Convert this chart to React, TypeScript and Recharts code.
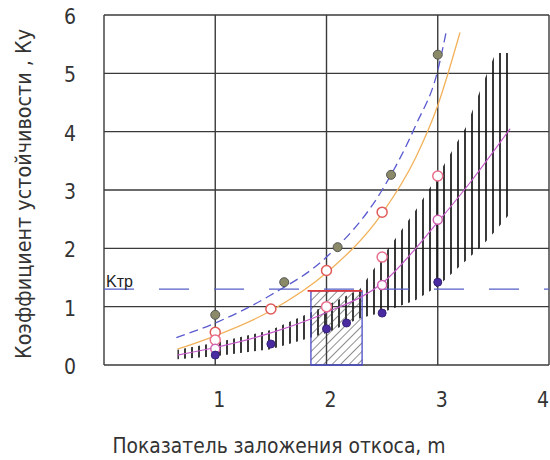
import {
  Area,
  CartesianGrid,
  ComposedChart,
  Label,
  Line,
  ReferenceArea,
  ReferenceLine,
  XAxis,
  YAxis,
} from "recharts";

const FONT =
  "'Liberation Sans Narrow', 'DejaVu Sans Condensed', 'Roboto Condensed', 'DejaVu Sans', sans-serif";

const X_TICKS = [0, 1, 2, 3, 4];
const Y_TICKS = [0, 1, 2, 3, 4, 5, 6];
const X_LABEL = "Показатель заложения откоса, m";
const Y_LABEL = "Коэффициент устойчивости , Ку";
const KTR = 1.3;

// upper dashed curve
const blueX = [0.65, 1.0, 1.5, 2.0, 2.5, 2.8, 3.0, 3.08];
const blueY = [0.47, 0.72, 1.2, 1.85, 3.0, 4.1, 5.05, 5.75];

// orange curve
const orangeX = [0.66, 1.0, 1.5, 2.0, 2.5, 2.8, 3.0, 3.2];
const orangeY = [0.27, 0.5, 0.93, 1.58, 2.6, 3.55, 4.45, 5.7];

// magenta curve
const magentaX = [0.66, 1.0, 1.5, 2.0, 2.5, 3.0, 3.3, 3.65];
const magentaY = [0.17, 0.3, 0.55, 0.9, 1.4, 2.45, 3.15, 4.05];

// hatched band
const bandX = [0.66, 1.0, 1.5, 2.0, 2.3, 2.5, 2.8, 3.0, 3.26, 3.4, 3.52, 3.65];
const bandLow = [0.1, 0.15, 0.27, 0.55, 0.8, 0.9, 1.11, 1.35, 1.8, 2.05, 2.3, 2.6];
const bandHigh = [0.26, 0.38, 0.6, 1.02, 1.3, 1.85, 2.65, 3.25, 4.1, 4.8, 5.35, 5.35];

// markers
const grayX = [1.0, 1.62, 2.1, 2.58, 3.0];
const grayY = [0.86, 1.42, 2.02, 3.26, 5.32];
const redX = [1.0, 1.5, 2.0, 2.5];
const redY = [0.56, 0.96, 1.62, 2.62];
const pinkX = [1.0, 2.0, 2.5, 3.0];
const pinkY = [0.43, 1.0, 1.85, 3.24];
const violetX = [1.0, 2.5, 3.0];
const violetY = [0.28, 1.37, 2.49];
const darkX = [1.0, 1.5, 2.0, 2.18, 2.5, 3.0];
const darkY = [0.17, 0.36, 0.62, 0.72, 0.89, 1.42];

// diagonal hatched rectangle
const rectX1 = 1.86;
const rectX2 = 2.32;
const rectTop = 1.27;
const redLineX1 = 1.83;

const pts = (xs: number[], ys: number[]) => xs.map((x, i) => ({ x, y: ys[i] }));
const bandData = bandX.map((x, i) => ({ x, range: [bandLow[i], bandHigh[i]] }));

const XTick = ({ x, y, payload }: any) =>
  payload.value === 0 ? (
    <g />
  ) : (
    <text
      x={Math.min(x + 4, 543)}
      y={y + 34}
      textAnchor="middle"
      fontSize={21}
      fill="#333"
      fontFamily={FONT}
    >
      {payload.value}
    </text>
  );

const YTick = ({ y, payload }: any) => (
  <text x={70} y={y + 9} textAnchor="middle" fontSize={21} fill="#333" fontFamily={FONT}>
    {payload.value}
  </text>
);

export default function App() {
  return (
    <div style={{ position: "absolute", left: 0, top: 0, background: "#fff" }}>
      <ComposedChart width={550} height={460} margin={{ top: 15, right: 1, left: 0, bottom: 0 }}>
        <defs>
          <pattern id="vhatch" patternUnits="userSpaceOnUse" width={7} height={10}>
            <line x1={3} y1={0} x2={3} y2={10} stroke="#151515" strokeWidth={1.7} />
          </pattern>
          <pattern
            id="dhatch"
            patternUnits="userSpaceOnUse"
            width={6}
            height={6}
            patternTransform="rotate(45)"
          >
            <line x1={0} y1={0} x2={0} y2={6} stroke="#444" strokeWidth={1.2} />
          </pattern>
        </defs>
        <CartesianGrid stroke="#3a3a3a" strokeWidth={1.4} />
        <XAxis
          type="number"
          dataKey="x"
          domain={[0, 4]}
          ticks={X_TICKS}
          axisLine={false}
          tickLine={false}
          height={95}
          tick={XTick}
        >
          <Label
            content={() => (
              <text
                x={279}
                y={453}
                textAnchor="middle"
                fontSize={22}
                fill="#333"
                fontFamily={FONT}
                textLength={333}
                lengthAdjust="spacingAndGlyphs"
              >
                {X_LABEL}
              </text>
            )}
          />
        </XAxis>
        <YAxis
          type="number"
          domain={[0, 6]}
          ticks={Y_TICKS}
          axisLine={false}
          tickLine={false}
          width={104}
          tick={YTick}
        >
          <Label
            content={() => (
              <text
                transform="translate(31,194) rotate(-90)"
                textAnchor="middle"
                fontSize={22}
                fill="#333"
                fontFamily={FONT}
                textLength={330}
                lengthAdjust="spacingAndGlyphs"
              >
                {Y_LABEL}
              </text>
            )}
          />
        </YAxis>
        <Area
          data={bandData}
          dataKey="range"
          type="linear"
          fill="url(#vhatch)"
          fillOpacity={1}
          stroke="none"
          isAnimationActive={false}
        />
        <ReferenceArea
          x1={rectX1}
          x2={rectX2}
          y1={0}
          y2={rectTop}
          fill="url(#dhatch)"
          fillOpacity={1}
          stroke="#4a4ac8"
          strokeWidth={1.3}
        />
        <ReferenceLine
          segment={[
            { x: redLineX1, y: rectTop },
            { x: rectX2, y: rectTop },
          ]}
          stroke="#e03a3a"
          strokeWidth={1.6}
        />
        <Line
          data={pts(blueX, blueY)}
          dataKey="y"
          type="monotone"
          stroke="#5a5ad0"
          strokeWidth={1.3}
          strokeDasharray="9 5"
          dot={false}
          isAnimationActive={false}
        />
        <Line
          data={pts(orangeX, orangeY)}
          dataKey="y"
          type="monotone"
          stroke="#f2b25c"
          strokeWidth={1.3}
          dot={false}
          isAnimationActive={false}
        />
        <Line
          data={pts(magentaX, magentaY)}
          dataKey="y"
          type="monotone"
          stroke="#c458c8"
          strokeWidth={1.2}
          dot={false}
          isAnimationActive={false}
        />
        <ReferenceLine
          y={KTR}
          stroke="#5560c8"
          strokeWidth={1.3}
          strokeDasharray="30 25"
          label={(p: any) => (
            <text
              x={p.viewBox.x + 2}
              y={p.viewBox.y - 2}
              fontSize={16}
              fill="#222"
              fontFamily="'Liberation Sans', Arial, sans-serif"
            >
              Kтр
            </text>
          )}
        />
        <Line
          data={pts(grayX, grayY)}
          dataKey="y"
          stroke="none"
          dot={{ r: 4.5, fill: "#8a8a68", stroke: "#555", strokeWidth: 1 }}
          activeDot={false}
          isAnimationActive={false}
        />
        <Line
          data={pts(redX, redY)}
          dataKey="y"
          stroke="none"
          dot={{ r: 5, fill: "#fff", stroke: "#e05a5a", strokeWidth: 1.5 }}
          activeDot={false}
          isAnimationActive={false}
        />
        <Line
          data={pts(pinkX, pinkY)}
          dataKey="y"
          stroke="none"
          dot={{ r: 5, fill: "#fff", stroke: "#e8708c", strokeWidth: 1.5 }}
          activeDot={false}
          isAnimationActive={false}
        />
        <Line
          data={pts(violetX, violetY)}
          dataKey="y"
          stroke="none"
          dot={{ r: 4.5, fill: "#fff", stroke: "#d060b0", strokeWidth: 1.5 }}
          activeDot={false}
          isAnimationActive={false}
        />
        <Line
          data={pts(darkX, darkY)}
          dataKey="y"
          stroke="none"
          dot={{ r: 4, fill: "#4a2aa0", stroke: "#35207a", strokeWidth: 1 }}
          activeDot={false}
          isAnimationActive={false}
        />
      </ComposedChart>
    </div>
  );
}
